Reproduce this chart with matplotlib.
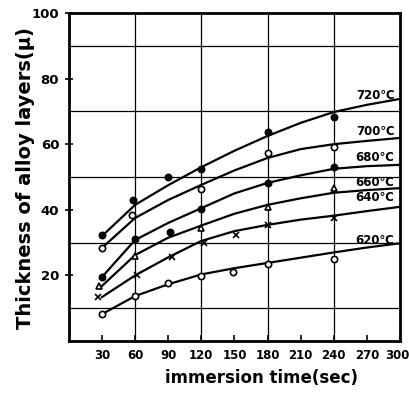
import matplotlib
matplotlib.use('Agg')
import matplotlib.pyplot as plt
from matplotlib.transforms import ScaledTranslation

plt.rcParams['font.family'] = ['DejaVu Sans']

# measured points (sec, micron)
t720 = [30, 58, 90, 120, 180, 240]
y720 = [32.3, 43, 50, 52.5, 63.7, 68.3]
t700 = [30, 57, 120, 180, 240]
y700 = [28.4, 38.4, 46.3, 57.4, 59.1]
t680 = [30, 60, 92, 120, 180, 240]
y680 = [19.5, 31, 33.3, 40.2, 48.2, 53]
t660 = [27, 60, 120, 180, 240]
y660 = [16.8, 26, 34.4, 41, 46.6]
t640 = [26, 62, 93, 122, 151, 180, 240]
y640 = [13.4, 20, 25.7, 29.8, 32.3, 35.4, 37.5]
t620 = [30, 60, 90, 120, 149, 180, 240]
y620 = [8.2, 13.7, 17.7, 19.8, 21.1, 23.6, 25]

# fitted curves
tc = [30, 60, 90, 120, 150, 180, 210, 240, 270, 300]
c720 = [32, 41.5, 47.5, 53, 58, 62.5, 66.5, 69.8, 72, 73.8]
c700 = [28.4, 37.5, 43, 47.6, 52, 55.8, 58.5, 60, 61, 61.9]
c680 = [19.5, 30.8, 36, 40.5, 45, 48.2, 50.5, 52.5, 53.3, 53.7]
c660 = [16.8, 26.2, 31.5, 35.2, 38.8, 41.5, 43.5, 45.2, 46, 46.6]
c640 = [13.4, 20, 25.5, 30.5, 33.5, 35.4, 37, 38.2, 39.6, 40.9]
c620 = [8.2, 13.7, 17.3, 20.3, 22.2, 23.8, 25.4, 27, 28.5, 29.8]

labels = ['720℃', '700℃', '680℃', '660℃', '640℃', '620℃']
label_y = [74.7, 64, 56, 48.2, 43.8, 30.5]

fig = plt.figure(figsize=(4.10, 3.93), dpi=100)
ax = fig.add_axes([0.168, 0.1323, 0.8076, 0.8347])

for g in [10, 30, 50, 70, 90]:
    ax.axhline(g, color='black', lw=0.9, zorder=1)
for g in [60, 120, 180, 240]:
    ax.axvline(g, color='black', lw=0.9, zorder=1)

series = [
    (t720, y720, c720, dict(marker='o', mfc='black')),
    (t700, y700, c700, dict(marker='o', mfc='white')),
    (t680, y680, c680, dict(marker='o', mfc='black')),
    (t660, y660, c660, dict(marker='^', mfc='white')),
    (t640, y640, c640, dict(marker='x', mfc='black')),
    (t620, y620, c620, dict(marker='o', mfc='white')),
]
for t, y, c, st in series:
    ax.plot(tc, c, color='black', lw=1.6, solid_joinstyle='round', zorder=3)
    ax.plot(t, y, ls='none', color='black', ms=4.5, mew=1.2, zorder=4, **st)

for lab, ly in zip(labels, label_y):
    ax.text(295, ly, lab, ha='right', va='center', fontsize=8.5,
            fontweight='bold', zorder=5)

ax.set_xlim(0, 300)
ax.set_ylim(0, 100)
ax.set_xticks(range(30, 301, 30))
ax.set_yticks([20, 40, 60, 80, 100])
ax.tick_params(axis='x', direction='in', length=4, width=1.2, labelsize=8.5, pad=6)
ax.tick_params(axis='y', direction='inout', length=6, width=1.2, labelsize=9.5, pad=4)
for lb in ax.get_xticklabels() + ax.get_yticklabels():
    lb.set_fontweight('bold')
# keep the last x label inside the canvas
last = ax.get_xticklabels()[-1]
last.set_transform(last.get_transform() + ScaledTranslation(-0.03, 0, fig.dpi_scale_trans))
for s in ax.spines.values():
    s.set_linewidth(2)

fig.text(0.637, 0.038, 'immersion time(sec)', ha='center', va='center',
         fontsize=12, fontweight='bold')
fig.text(0.061, 0.547, 'Thickness of alloy layers(μ)', ha='center', va='center',
         rotation=90, fontsize=14, fontweight='bold')

fig.savefig('out.png', dpi=100)
